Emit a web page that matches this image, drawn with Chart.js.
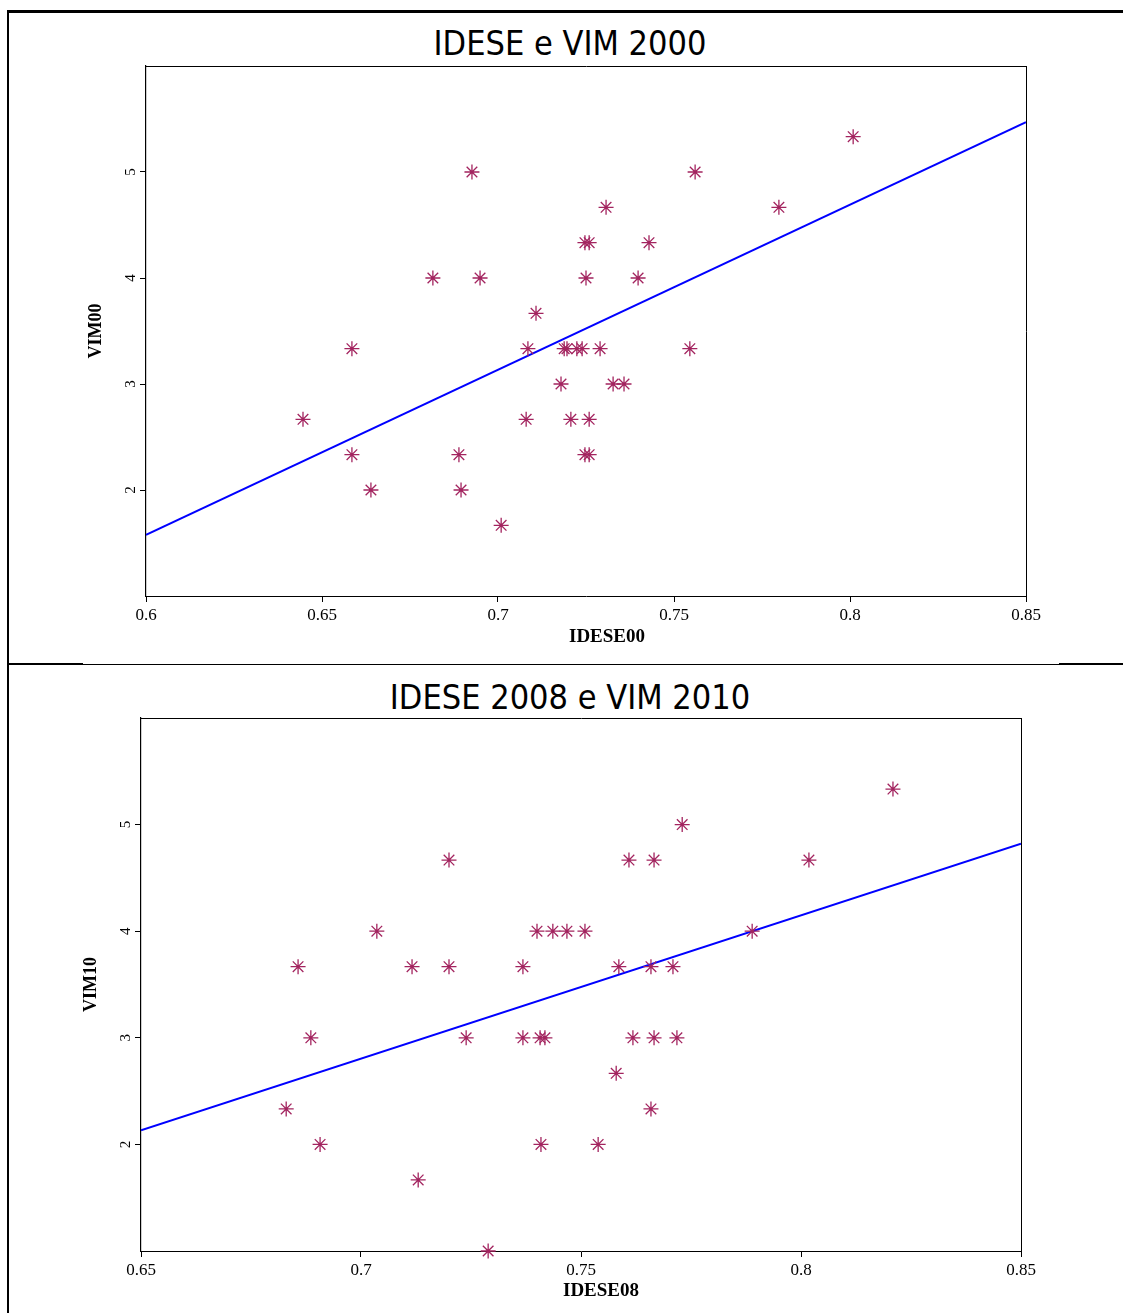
<!DOCTYPE html>
<html>
<head>
<meta charset="utf-8">
<script src="https://cdn.jsdelivr.net/npm/chart.js@4.4.1/dist/chart.umd.min.js"></script>
<style>
  body { margin: 0; background: #fff; width: 1123px; height: 1313px; overflow: hidden; position: relative; }
  .line { position: absolute; background: #000; }
  .title { position: absolute; left: 0; width: 1140px; text-align: center; font-family: "DejaVu Sans Condensed", "DejaVu Sans", sans-serif; font-size: 34px; line-height: 40px; color: #000; }
  .xtitle { position: absolute; width: 200px; text-align: center; font-family: "Liberation Serif", "Times New Roman", serif; font-weight: bold; font-size: 19px; line-height: 22px; color: #000; }
  .wrap { position: absolute; left: 0; width: 1123px; height: 604px; }
</style>
</head>
<body>
<div class="line" style="left:7px;top:10px;width:2px;height:1303px"></div>
<div class="line" style="left:7px;top:10px;width:1116px;height:3px"></div>
<div class="line" style="left:8px;top:663px;width:75px;height:2px"></div>
<div class="line" style="left:83px;top:664px;width:976px;height:1px"></div>
<div class="line" style="left:1059px;top:663px;width:64px;height:2px"></div>

<div class="title" style="top:23px">IDESE e VIM 2000</div>
<div class="title" style="top:677px">IDESE 2008 e VIM 2010</div>

<div class="wrap" style="top:52px"><canvas id="c1"></canvas></div>
<div class="wrap" style="top:704px"><canvas id="c2"></canvas></div>

<div class="xtitle" style="left:507px;top:625px">IDESE00</div>
<div class="xtitle" style="left:501px;top:1279px">IDESE08</div>

<script>
// --- IDESE 2000 x VIM 2000 ---
const IDESE00 = [0.6446, 0.6585, 0.6585, 0.6639, 0.6815, 0.6889, 0.6895, 0.6926, 0.6949, 0.7009,
  0.7080, 0.7085, 0.7108, 0.7179, 0.7188, 0.7196, 0.7207, 0.7224, 0.7239, 0.7247,
  0.7259, 0.7250, 0.7247, 0.7259, 0.7259, 0.7290, 0.7307, 0.7327, 0.7358, 0.7398,
  0.7429, 0.7545, 0.7560, 0.7798, 0.8009];
const VIM00 = [2.667, 3.333, 2.333, 2.0, 4.0, 2.333, 2.0, 5.0, 4.0, 1.667,
  2.667, 3.333, 3.667, 3.0, 3.333, 3.333, 2.667, 3.333, 3.333, 4.333,
  4.333, 4.0, 2.333, 2.333, 2.667, 3.333, 4.667, 3.0, 3.0, 4.0,
  4.333, 3.333, 5.0, 4.667, 5.333];
const FIT00_X = [0.6, 0.85];
const FIT00_Y = [1.576, 5.47];
const XTICKS00 = [0.6, 0.65, 0.7, 0.75, 0.8, 0.85];
const XLABELS00 = ["0.6", "0.65", "0.7", "0.75", "0.8", "0.85"];

// --- IDESE 2008 x VIM 2010 ---
const IDESE08 = [0.6830, 0.6857, 0.6886, 0.6907, 0.7036, 0.7116, 0.7130, 0.7200, 0.7200, 0.7239,
  0.7289, 0.7368, 0.7368, 0.7400, 0.7407, 0.7418, 0.7409, 0.7436, 0.7468, 0.7509,
  0.7539, 0.7580, 0.7586, 0.7609, 0.7618, 0.7659, 0.7659, 0.7666, 0.7666, 0.7709,
  0.7718, 0.7730, 0.7889, 0.8018, 0.8209];
const VIM10 = [2.333, 3.667, 3.0, 2.0, 4.0, 3.667, 1.667, 4.667, 3.667, 3.0,
  1.0, 3.667, 3.0, 4.0, 3.0, 3.0, 2.0, 4.0, 4.0, 4.0,
  2.0, 2.667, 3.667, 4.667, 3.0, 3.667, 2.333, 4.667, 3.0, 3.667,
  3.0, 5.0, 4.0, 4.667, 5.333];
const FIT08_X = [0.65, 0.85];
const FIT08_Y = [2.132, 4.82];
const XTICKS08 = [0.65, 0.7, 0.75, 0.8, 0.85];
const XLABELS08 = ["0.65", "0.7", "0.75", "0.8", "0.85"];

const YTICKS = [2, 3, 4, 5];
const YMIN = 1, YMAX = 6;

const SERIF = "'Liberation Serif', 'Times New Roman', serif";

function pairs(xs, ys) {
  return xs.map((x, i) => ({ x, y: ys[i] }));
}

function drawScatter(id, cfg) {
  const canvas = document.getElementById(id);

  const xTickFmt = v => {
    const i = cfg.xticks.findIndex(t => Math.abs(t - v) < 1e-9);
    return i >= 0 ? cfg.xlabels[i] : "";
  };

  new Chart(canvas, {
    type: "scatter",
    data: {
      datasets: [
        {
          label: "pontos",
          data: pairs(cfg.xs, cfg.ys),
          pointStyle: "star",
          pointRadius: 7.5,
          pointHoverRadius: 7.5,
          borderColor: "#a3245f",
          backgroundColor: "#7a0038",
          pointBorderWidth: 1.3,
          clip: false
        },
        {
          type: "line",
          label: "ajuste",
          data: pairs(cfg.fitX, cfg.fitY),
          borderColor: "#0000ff",
          borderWidth: 2,
          pointRadius: 0,
          fill: false
        }
      ]
    },
    options: {
      responsive: true,
      maintainAspectRatio: false,
      animation: false,
      events: [],
      layout: { padding: cfg.padding },
      plugins: { legend: { display: false }, tooltip: { enabled: false } },
      scales: {
        x: {
          type: "linear",
          min: cfg.xticks[0],
          max: cfg.xticks[cfg.xticks.length - 1],
          afterBuildTicks: s => { s.ticks = cfg.xticks.map(v => ({ value: v })); },
          afterFit: s => { s.height = 50; },
          grid: { drawOnChartArea: false, drawTicks: true, tickLength: 6, color: "#000" },
          border: { color: "#000", width: 1 },
          ticks: { callback: xTickFmt, color: "#000", padding: 3, maxRotation: 0, font: { family: SERIF, size: 17 } }
        },
        y: {
          type: "linear",
          min: YMIN,
          max: YMAX,
          afterBuildTicks: s => { s.ticks = YTICKS.map(v => ({ value: v })); },
          afterFit: s => { s.width = 66; },
          grid: { drawOnChartArea: false, drawTicks: true, tickLength: 6, color: "#000" },
          border: { color: "#000", width: 1.2 },
          ticks: { color: "#000", padding: 5, minRotation: 90, maxRotation: 90, crossAlign: "center", font: { family: SERIF, size: 15 } },
          title: { display: true, text: cfg.ytitle, color: "#000", padding: { top: 6, bottom: 0 }, font: { family: SERIF, size: 18, weight: "bold" } }
        },
        // only for the top and right sides of the box
        x2: {
          type: "linear", position: "top",
          min: cfg.xticks[0], max: cfg.xticks[cfg.xticks.length - 1],
          grid: { display: false }, ticks: { display: false },
          border: { color: "#000", width: 1 },
          afterFit: s => { s.height = 0; }
        },
        y2: {
          type: "linear", position: "right",
          min: YMIN, max: YMAX,
          grid: { display: false }, ticks: { display: false },
          border: { color: "#000", width: 1 },
          afterFit: s => { s.width = 0; }
        }
      }
    }
  });
}

drawScatter("c1", {
  xs: IDESE00, ys: VIM00, fitX: FIT00_X, fitY: FIT00_Y,
  xticks: XTICKS00, xlabels: XLABELS00, ytitle: "VIM00",
  padding: { left: 80, right: 97, top: 6, bottom: 10 }
});

drawScatter("c2", {
  xs: IDESE08, ys: VIM10, fitX: FIT08_X, fitY: FIT08_Y,
  xticks: XTICKS08, xlabels: XLABELS08, ytitle: "VIM10",
  padding: { left: 75, right: 102, top: 6, bottom: 7 }
});
</script>
</body>
</html>
